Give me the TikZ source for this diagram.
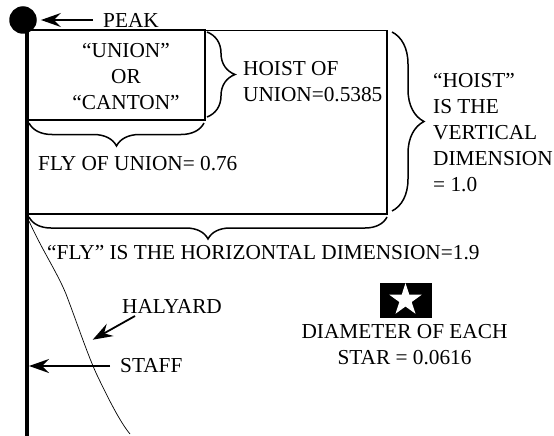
\documentclass[tikz,border=0pt]{standalone}
\usepackage{fontspec}
\setmainfont{Liberation Serif}
\usepackage{tikz}
\usetikzlibrary{arrows.meta, positioning, shapes.geometric, decorations.pathreplacing}

\tikzset{
    label text/.style={inner sep=0pt, font=\fontsize{21.3}{26}\selectfont},
    pointer/.style={line width=1.8pt, -{Stealth[length=20pt, width=14pt, inset=7pt]}},
    curly/.style={decorate, line width=1.5pt, decoration={brace, aspect=0.5, amplitude=#1}}
}

\begin{document}
\begin{tikzpicture}[x=1pt, y=-1pt]
    \useasboundingbox (0,0) rectangle (554,436);

    % Flag and union
    \draw[line width=1.7pt] (27,30.5) rectangle (387,214);
    \draw[line width=2pt] (27,30.5) rectangle (204.7,120);
    \node[label text, align=center] (union) at (126,77) {``UNION''\\OR\\``CANTON''};

    % Staff and peak
    \coordinate (stafftop) at (27,20);
    \coordinate (staffbottom) at (27,436);
    \draw[line width=4pt] (stafftop) -- (staffbottom);
    \node[circle, fill=black, minimum size=27.5pt, inner sep=0pt] (ball) at (23,20) {};
    \node[label text, anchor=west] (peak) at (103,20) {PEAK};
    \draw[pointer, shorten >=4pt, shorten <=10pt] (peak.west) -- (ball.east);

    % Braces
    \coordinate (hoistA) at (207,117);
    \coordinate (hoistB) at (207,32);
    \draw[curly=28pt] (hoistB) -- (hoistA);
    \node[label text, anchor=west, align=left] (unionhoist) at (243,82) {HOIST OF\\UNION=0.5385};

    \coordinate (flyA) at (29,123);
    \coordinate (flyB) at (204,123);
    \draw[curly=23pt] (flyB) -- (flyA);
    \node[label text, anchor=west] (unionfly) at (38,164) {FLY OF UNION= 0.76};

    \coordinate (rightA) at (392,32);
    \coordinate (rightB) at (392,211);
    \draw[curly=32pt] (rightA) -- (rightB);
    \node[label text, anchor=west, align=left] (hoist) at (433,132.5) {``HOIST''\\IS THE\\VERTICAL\\DIMENSION\\= 1.0};

    \coordinate (bottomA) at (29,217);
    \coordinate (bottomB) at (387,217);
    \draw[curly=22pt] (bottomB) -- (bottomA);
    \node[label text, anchor=west] (fly) at (47,253) {``FLY'' IS THE HORIZONTAL DIMENSION=1.9};

    % Halyard
    \coordinate (halyardtop) at (29,221);
    \coordinate (halyardend) at (130,434);
    \draw[line width=0.7pt] (halyardtop) .. controls (42,250) and (57,272) .. (66,294)
        .. controls (76,320) and (88,356) .. (97,375) .. controls (108,398) and (120,422) .. (halyardend);
    \node[label text, anchor=west] (halyardlabel) at (122,306) {HALYARD};
    \coordinate (halyardtip) at (92.7,339.7);
    \coordinate (halyardtail) at (135,316);
    \draw[pointer] (halyardtail) -- (halyardtip);

    \node[label text, anchor=west] (staff) at (120,366) {STAFF};
    \coordinate (stafftip) at (29,366);
    \draw[pointer, shorten <=10pt] (staff.west) -- (stafftip);

    % Star
    \node[fill=black, minimum width=52pt, minimum height=35pt, inner sep=0pt] (starbox) at (406,300.5) {};
    \node[star, star points=5, star point ratio=2.618, fill=white, minimum size=34pt, inner sep=0pt] (whitestar) at (405.5,300) {};
    \node[label text, align=center] (diameter) at (404.5,345) {DIAMETER OF EACH\\STAR = 0.0616};
\end{tikzpicture}
\end{document}
